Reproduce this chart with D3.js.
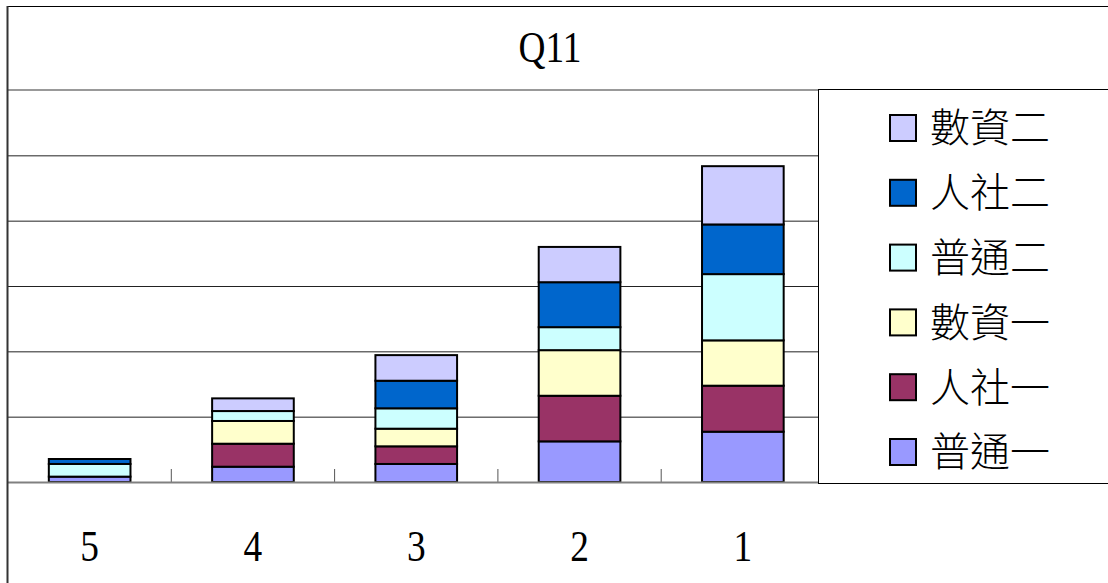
<!DOCTYPE html>
<html>
<head>
<meta charset="utf-8">
<script src="https://cdn.jsdelivr.net/npm/d3@7"></script>
<style>
  body { margin: 0; background: #fff; }
  svg { display: block; }
</style>
</head>
<body>
<svg id="chart" width="1108" height="583"></svg>
<script>
// categories on the x axis (left to right)
const categories = ['5', '4', '3', '2', '1'];

// series, bottom of the stack first (percent of each class)
const seriesNames = ['普通一', '人社一', '數資一', '普通二', '人社二', '數資二'];
const puTong1 = [4.1, 11.7, 13.8, 31.1, 38.5];
const renShe1 = [0, 17.6, 13.5, 34.9, 35.2];
const shuZi1 = [0, 17.4, 13.5, 34.9, 34.7];
const puTong2 = [9.7, 7.6, 15.6, 17.6, 50.7];
const renShe2 = [3.8, 0, 21.1, 34.4, 38.0];
const shuZi2 = [0, 9.7, 19.6, 27.0, 44.6];
const seriesValues = [puTong1, renShe1, shuZi1, puTong2, renShe2, shuZi2];
const seriesColors = ['#9999FF', '#993366', '#FFFFCC', '#CCFFFF', '#0066CC', '#CCCCFF'];

// value axis: gridlines every 50, no labels shown
const yTicks = [50, 100, 150, 200, 250, 300];

const svg = d3.select('#chart');
const plotLeft = 8, plotRight = 824.5, plotTop = 90, plotBottom = 482;
const legendLeft = 818;

const x = d3.scaleBand()
  .domain(categories)
  .range([plotLeft, plotRight])
  .paddingInner(0.5)
  .paddingOuter(0.25);

const y = d3.scaleLinear()
  .domain([0, 300])
  .range([plotBottom, plotTop]);

// Build stacked data
const rows = categories.map((c, i) => {
  const r = { cat: c };
  seriesNames.forEach((s, j) => { r[s] = seriesValues[j][i]; });
  return r;
});
const stacked = d3.stack().keys(seriesNames)(rows);

// Gridlines
svg.append('g')
  .selectAll('line')
  .data(yTicks.filter(t => t < 300))
  .enter()
  .append('line')
    .attr('x1', plotLeft)
    .attr('x2', legendLeft)
    .attr('y1', d => y(d) + 0.5)
    .attr('y2', d => y(d) + 0.5)
    .attr('stroke', '#222')
    .attr('stroke-width', 1);

// top of plot area (gray)
svg.append('line')
  .attr('x1', plotLeft).attr('x2', 1108)
  .attr('y1', y(300)).attr('y2', y(300))
  .attr('stroke', '#999').attr('stroke-width', 2);

// Category axis with inner ticks
const tickXs = d3.range(1, categories.length).map(k => plotLeft + k * x.step());
svg.append('g')
  .selectAll('line')
  .data(tickXs)
  .enter()
  .append('line')
    .attr('x1', d => d).attr('x2', d => d)
    .attr('y1', plotBottom).attr('y2', plotBottom - 13)
    .attr('stroke', '#555').attr('stroke-width', 1);

// Bars
svg.append('g')
  .selectAll('g')
  .data(stacked)
  .enter()
  .append('g')
    .attr('fill', (d, i) => seriesColors[i])
  .selectAll('rect')
  .data(d => d.filter(p => p[1] - p[0] > 0))
  .enter()
  .append('rect')
    .attr('x', d => x(d.data.cat))
    .attr('y', d => y(d[1]))
    .attr('width', x.bandwidth())
    .attr('height', d => y(d[0]) - y(d[1]))
    .attr('stroke', '#000')
    .attr('stroke-width', 2);

// baseline
svg.append('line')
  .attr('x1', plotLeft).attr('x2', legendLeft)
  .attr('y1', plotBottom + 0.5).attr('y2', plotBottom + 0.5)
  .attr('stroke', '#808080').attr('stroke-width', 2);

// Category labels
svg.append('g')
  .selectAll('text')
  .data(categories)
  .enter()
  .append('text')
    .attr('transform', d => `translate(${x(d) + x.bandwidth() / 2}, 561) scale(0.83, 1)`)
    .attr('text-anchor', 'middle')
    .attr('font-family', 'Liberation Serif, Times New Roman, serif')
    .attr('font-size', 45)
    .attr('fill', '#000')
    .text(d => d);

// Title
svg.append('text')
  .attr('transform', 'translate(550, 62) scale(0.83, 1)')
  .attr('text-anchor', 'middle')
  .attr('font-family', 'Liberation Serif, Times New Roman, serif')
  .attr('font-size', 45)
  .attr('fill', '#000')
  .text('Q11');

// Legend
const legend = svg.append('g');
legend.append('rect')
  .attr('x', legendLeft + 0.5).attr('y', 89.5)
  .attr('width', 400).attr('height', 394)
  .attr('fill', '#fff').attr('stroke', '#000').attr('stroke-width', 1);

const legendOrder = seriesNames.slice().reverse();
const legendItems = legend.selectAll('g.item')
  .data(legendOrder)
  .enter()
  .append('g')
    .attr('class', 'item')
    .attr('transform', (d, i) => `translate(0, ${128 + i * 64.8})`);
legendItems.append('rect')
  .attr('x', 890).attr('y', -13)
  .attr('width', 26).attr('height', 26)
  .attr('fill', d => seriesColors[seriesNames.indexOf(d)])
  .attr('stroke', '#000').attr('stroke-width', 2);
legendItems.append('text')
  .attr('x', 930).attr('y', 0)
  .attr('dy', '0.36em')
  .attr('font-family', 'Noto Sans CJK TC, Noto Sans CJK SC, sans-serif')
  .attr('font-weight', 300)
  .attr('font-size', 40)
  .attr('fill', '#000')
  .text(d => d);

// Outer frame (top and left edges)
svg.append('line')
  .attr('x1', 7).attr('x2', 1108).attr('y1', 6.5).attr('y2', 6.5)
  .attr('stroke', '#000').attr('stroke-width', 1);
svg.append('line')
  .attr('x1', 7.5).attr('x2', 7.5).attr('y1', 6).attr('y2', 583)
  .attr('stroke', '#333').attr('stroke-width', 2);
</script>
</body>
</html>
